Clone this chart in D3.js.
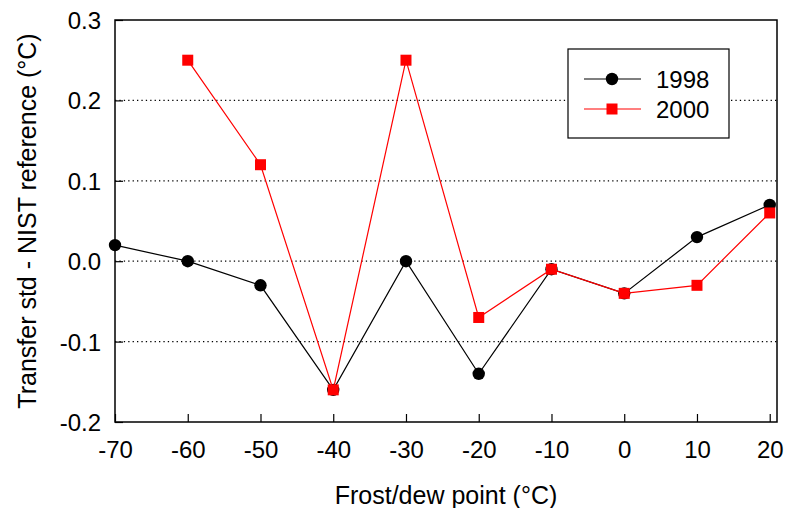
<!DOCTYPE html>
<html><head><meta charset="utf-8">
<script src="https://cdn.jsdelivr.net/npm/d3@7"></script>
<style>body{margin:0;background:#fff}svg{display:block}text{font-family:"Liberation Sans",Arial,sans-serif}</style>
</head><body>
<script>
const xValues1998 = [-70,-60,-50,-40,-30,-20,-10,0,10,20];
const values1998 = [0.02,0.00,-0.03,-0.16,0.00,-0.14,-0.01,-0.04,0.03,0.07];
const xValues2000 = [-60,-50,-40,-30,-20,-10,0,10,20];
const values2000 = [0.25,0.12,-0.16,0.25,-0.07,-0.01,-0.04,-0.03,0.06];
const xTicks = [-70,-60,-50,-40,-30,-20,-10,0,10,20];
const yTicks = [-0.2,-0.1,0.0,0.1,0.2,0.3];
const seriesNames = ["1998","2000"];

const W=785,H=508;
const m={l:115,t:20,r:8,b:86};
const FS=24;
const svg=d3.select("body").append("svg").attr("width",W).attr("height",H);
const x=d3.scaleLinear().domain([-70,21]).range([m.l,W-m.r]);
const y=d3.scaleLinear().domain([-0.2,0.3]).range([H-m.b,m.t]);
const hy=f=>d=>f(d).replace("\u2212","-");

// grid
svg.append("g").selectAll("line").data(yTicks.filter(d=>d>-0.2&&d<0.3)).join("line")
 .attr("x1",m.l).attr("x2",W-m.r).attr("y1",d=>y(d)).attr("y2",d=>y(d))
 .attr("stroke","#000").attr("stroke-width",1.3).attr("stroke-dasharray","1.3,3.1");

// axes
const xa=svg.append("g").attr("transform",`translate(0,${H-m.b})`)
 .call(d3.axisBottom(x).tickValues(xTicks).tickSize(-8).tickPadding(19).tickFormat(hy(d3.format("d"))));
const ya=svg.append("g").attr("transform",`translate(${m.l},0)`)
 .call(d3.axisLeft(y).tickValues(yTicks).tickSize(-8).tickPadding(14).tickFormat(hy(d3.format(".1f"))));
[xa,ya].forEach(a=>{a.select(".domain").remove();a.selectAll("text").attr("font-size",FS).attr("fill","#000").style("font-family","Liberation Sans, Arial, sans-serif");a.selectAll("line").attr("stroke","#000").attr("stroke-width",1.2);});
ya.selectAll("text").attr("dy","0.35em");
// frame
svg.append("rect").attr("x",m.l).attr("y",m.t).attr("width",W-m.r-m.l).attr("height",H-m.b-m.t)
 .attr("fill","none").attr("stroke","#000").attr("stroke-width",1.5);

const line=d3.line().x(d=>x(d[0])).y(d=>y(d[1]));
const d98=xValues1998.map((v,i)=>[v,values1998[i]]);
const d00=xValues2000.map((v,i)=>[v,values2000[i]]);

svg.append("path").datum(d98).attr("d",line).attr("fill","none").attr("stroke","#000").attr("stroke-width",1.2);
svg.append("g").selectAll("circle").data(d98).join("circle").attr("cx",d=>x(d[0])).attr("cy",d=>y(d[1])).attr("r",6.2).attr("fill","#000");
svg.append("path").datum(d00).attr("d",line).attr("fill","none").attr("stroke","#ff0000").attr("stroke-width",1.2);
svg.append("g").selectAll("rect").data(d00).join("rect").attr("x",d=>x(d[0])-5.5).attr("y",d=>y(d[1])-5.5).attr("width",11).attr("height",11).attr("fill","#ff0000");

// labels
svg.append("text").attr("x",446).attr("y",504).attr("text-anchor","middle").attr("font-size",25).text("Frost/dew point (°C)");
svg.append("text").attr("transform",`translate(36,221) rotate(-90)`).attr("text-anchor","middle").attr("font-size",25).text("Transfer std - NIST reference (°C)");

// legend
const lg=svg.append("g");
lg.append("rect").attr("x",568).attr("y",49).attr("width",161).attr("height",89).attr("fill","#fff").attr("stroke","#000").attr("stroke-width",1.2);
const rows=[{n:seriesNames[0],c:"#000",cy:79,s:"circle"},{n:seriesNames[1],c:"#ff0000",cy:109,s:"rect"}];
rows.forEach(r=>{
 lg.append("line").attr("x1",584).attr("x2",641).attr("y1",r.cy).attr("y2",r.cy).attr("stroke",r.c).attr("stroke-width",1.2);
 if(r.s==="circle") lg.append("circle").attr("cx",612).attr("cy",r.cy).attr("r",6.2).attr("fill",r.c);
 else lg.append("rect").attr("x",606.5).attr("y",r.cy-5.5).attr("width",11).attr("height",11).attr("fill",r.c);
 lg.append("text").attr("x",656).attr("y",r.cy).attr("dy","0.36em").attr("font-size",FS).text(r.n);
});
</script>
</body></html>
